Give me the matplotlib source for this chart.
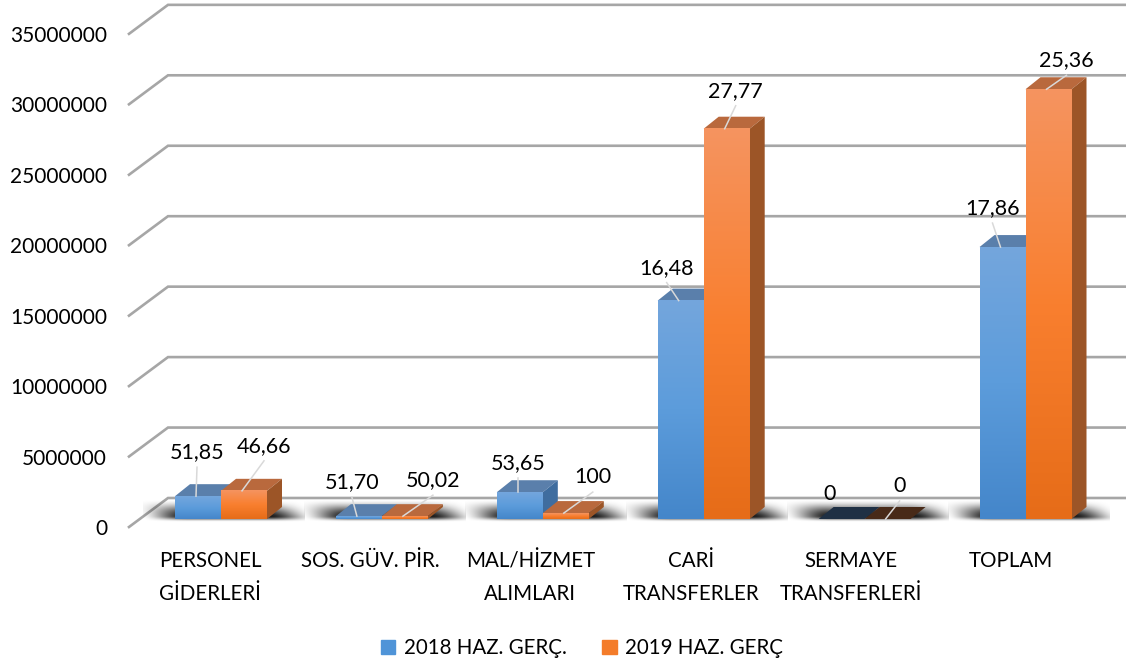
import numpy as np
import matplotlib
matplotlib.use('Agg')
import matplotlib.pyplot as plt
from matplotlib.colors import LinearSegmentedColormap
from matplotlib.patches import Patch, Polygon

categories = ['PERSONEL\nGİDERLERİ', 'SOS. GÜV. PİR.', 'MAL/HİZMET\nALIMLARI',
              'CARİ\nTRANSFERLER', 'SERMAYE\nTRANSFERLERİ', 'TOPLAM']
series_names = ['2018 HAZ. GERÇ.', '2019 HAZ. GERÇ']
values_2018 = [1620000, 200000, 1900000, 15500000, 0, 19300000]
values_2019 = [2000000, 200000, 420000, 27700000, 0, 30500000]
labels_2018 = ['51,85', '51,70', '53,65', '16,48', '0', '17,86']
labels_2019 = ['46,66', '50,02', '100', '27,77', '0', '25,36']
y_ticks = [0, 5000000, 10000000, 15000000, 20000000, 25000000, 30000000, 35000000]

# label offsets in pixels, from the front centre of the bar top
offsets_2018 = [(-1, 44), (-7, 34), (-2, 29), (-14, 33), (-12, 25), (-10, 39)]
offsets_2019 = [(20, 45), (28, 36), (27, 36), (9, 38), (12, 33), (18, 29)]

W, H = 1126, 664
PX_X = 160.9
PX_Y = 14.09 / 1e6
BASE_PX = 519
CENTER_PX = 221
BAR_PX = 46
DEPTH = (15, 12)
TEXT_COLOR = '#000000'

plt.rcParams['font.family'] = ['Lato', 'DejaVu Sans']

fig = plt.figure(figsize=(W / 100, H / 100), dpi=100)
ax = fig.add_axes([0, 0, 1, 1])
ax.axis('off')


def dx(p):
    return p / PX_X


def dy(p):
    return p / PX_Y


def px_x(p):
    return (p - CENTER_PX) / PX_X


blue_map = LinearSegmentedColormap.from_list('b', ['#74a6dd', '#5c9cdb', '#4486ca'])
orange_map = LinearSegmentedColormap.from_list('o', ['#f59460', '#f97f2f', '#e66c18'])
ramp = np.linspace(0, 1, 256).reshape(-1, 1)

# gridlines, back wall plus the slanted side wall
grid_color = '#a6a6a6'
wall_x = px_x(168)
left_x = px_x(129)
back_lift = dy(21)
front_drop = dy(8)
for t in y_ticks:
    ax.plot([left_x, wall_x, px_x(W)], [t - front_drop, t + back_lift, t + back_lift],
            color=grid_color, lw=1.9, zorder=1, solid_joinstyle='miter')
    ax.text(px_x(107), t - front_drop - dy(2), str(t), ha='right', va='center', fontsize=15, color=TEXT_COLOR)

# soft shadow on the floor round each group
grid_y, grid_x = np.mgrid[0:1:60j, 0:1:320j]


def smooth(a):
    a = np.clip(a, 0, 1)
    return a * a * (3 - 2 * a)


shadow = np.zeros(grid_x.shape + (4,))
shear = grid_x + (1 - grid_y) * 0.1
shadow[..., 3] = (0.92 * smooth(shear / 0.3) * smooth((1.1 - shear) / 0.3)
                  * smooth(grid_y / 0.8) * smooth((1 - grid_y) / 0.25))
for i in range(len(categories)):
    ax.imshow(shadow, extent=[i + dx(-78), i + dx(84), dy(-3), dy(20)], origin='upper',
              aspect='auto', zorder=2, interpolation='bilinear')


def draw_bar(x_left, value, cmap, top_color, side_color, zero_color, order):
    w = dx(BAR_PX)
    ox, oy = dx(DEPTH[0]), dy(DEPTH[1])
    if value == 0:
        ax.add_patch(Polygon([(x_left, 0), (x_left + w, 0), (x_left + w + ox, oy), (x_left + ox, oy)],
                             color=zero_color, lw=0, zorder=order))
        return
    ax.add_patch(Polygon([(x_left, value), (x_left + w, value), (x_left + w + ox, value + oy), (x_left + ox, value + oy)],
                         color=top_color, lw=0, zorder=order))
    ax.add_patch(Polygon([(x_left + w, 0), (x_left + w + ox, oy), (x_left + w + ox, value + oy), (x_left + w, value)],
                         color=side_color, lw=0, zorder=order))
    ax.imshow(ramp, cmap=cmap, extent=[x_left, x_left + w, 0, value], origin='upper',
              aspect='auto', zorder=order + 0.1)


def draw_label(x_center, value, text, off):
    x_text, y_text = x_center + dx(off[0]), value + dy(off[1])
    # short leaders are not drawn in the original
    if off[1] > 26:
        ax.plot([x_center - dx(2), x_text], [value, y_text - dy(15)],
                color='#d9d9d9', lw=1.1, zorder=12)
    ax.text(x_text, y_text, text, ha='center', va='center', fontsize=15.5, color=TEXT_COLOR, zorder=13)


bar_w = dx(BAR_PX)
for i, (v18, v19) in enumerate(zip(values_2018, values_2019)):
    draw_bar(i - bar_w, v18, blue_map, '#5a7fab', '#3f6d9f', '#1f3044', 5)
    draw_bar(i, v19, orange_map, '#b9693d', '#9c5527', '#482a18', 7)
    draw_label(i - bar_w / 2, v18, labels_2018[i], offsets_2018[i])
    draw_label(i + bar_w / 2, v19, labels_2019[i], offsets_2019[i])
    ax.text(i + dx(-11 - 0.7 * i), dy(-32), categories[i], ha='center', va='top', fontsize=14.8,
            linespacing=1.8, color=TEXT_COLOR)

handles = [Patch(color='#4f94d8', label=series_names[0]), Patch(color='#f47c2a', label=series_names[1])]
fig.legend(handles=handles, loc='center', bbox_to_anchor=(582 / W, 1 - 648 / H), ncol=2,
           frameon=False, fontsize=14.8, handlelength=0.7, handleheight=0.7,
           handletextpad=0.4, columnspacing=1.75, labelcolor=TEXT_COLOR)

ax.set_xlim((0 - CENTER_PX) / PX_X, (W - CENTER_PX) / PX_X)
ax.set_ylim((BASE_PX - H) / PX_Y, BASE_PX / PX_Y)
fig.savefig('out.png', dpi=100)
